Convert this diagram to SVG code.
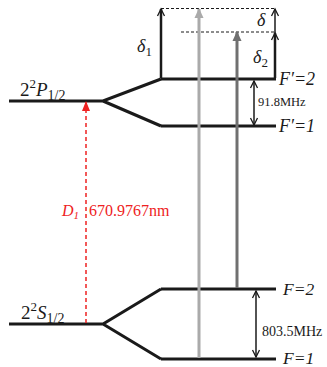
<svg xmlns="http://www.w3.org/2000/svg" width="327" height="367" viewBox="0 0 327 367">
<style>
.lvl{stroke:#1a1a1a;stroke-width:3;fill:none}
.thin{stroke:#1a1a1a;stroke-width:1.5;fill:none}
.dash{stroke:#1a1a1a;stroke-width:1;stroke-dasharray:3,2;fill:none}
.t{font-family:"Liberation Serif",serif;fill:#1a1a1a}
.it{font-style:italic}
</style>
<defs>
<marker id="ah" markerWidth="10" markerHeight="10" refX="8" refY="5" orient="auto-start-reverse" markerUnits="userSpaceOnUse" viewBox="0 0 10 10">
<path d="M1,1.5 L8,5 L1,8.5" fill="none" stroke="#1a1a1a" stroke-width="1.3"/>
</marker>
<marker id="agl" markerWidth="10" markerHeight="10" refX="9" refY="5" orient="auto" markerUnits="userSpaceOnUse" viewBox="0 0 10 10">
<path d="M0,0.5 L10,5 L0,9.5 Z" fill="#aaaaaa"/>
</marker>
<marker id="agd" markerWidth="10" markerHeight="10" refX="9" refY="5" orient="auto" markerUnits="userSpaceOnUse" viewBox="0 0 10 10">
<path d="M0,0.5 L10,5 L0,9.5 Z" fill="#707070"/>
</marker>
<marker id="ar" markerWidth="10" markerHeight="10" refX="9" refY="5" orient="auto" markerUnits="userSpaceOnUse" viewBox="0 0 10 10">
<path d="M0,1 L10,5 L0,9 Z" fill="#ee2222"/>
</marker>
</defs>
<g id="P-level">
<path class="lvl" d="M9,101 H103 L161,79 M103,101 L161,126"/>
<text class="t" x="20" y="96" font-size="19">2<tspan dy="-8" font-size="13">2</tspan><tspan class="it" dy="8">P</tspan><tspan dy="4" font-size="14">1/2</tspan></text>
</g>
<g id="Fp2">
<path class="lvl" d="M161,79 H276"/>
<text class="t it" x="279" y="85" font-size="18">F′=2</text>
</g>
<g id="Fp1">
<path class="lvl" d="M161,126 H276"/>
<text class="t it" x="279" y="132" font-size="18">F′=1</text>
</g>
<g id="S-level">
<path class="lvl" d="M9,324 H103 L161,289 M103,324 L161,359"/>
<text class="t" x="21" y="319" font-size="19">2<tspan dy="-8" font-size="13">2</tspan><tspan class="it" dy="8">S</tspan><tspan dy="4" font-size="14">1/2</tspan></text>
</g>
<g id="F2">
<path class="lvl" d="M161,289 H276"/>
<text class="t it" x="283" y="295" font-size="17.5">F=2</text>
</g>
<g id="F1">
<path class="lvl" d="M161,359 H276"/>
<text class="t it" x="283" y="364" font-size="17.5">F=1</text>
</g>
<g id="connectors">
<path class="dash" d="M161,8.5 H275 M181,32 H275"/>
<path d="M161,78 V9" stroke="#1a1a1a" stroke-width="2.5" marker-end="url(#ah)"/>
<path d="M275,78 V33" stroke="#1a1a1a" stroke-width="2.5" marker-end="url(#ah)"/>
<path d="M275,33 V9" stroke="#1a1a1a" stroke-width="1.5" marker-end="url(#ah)"/>
<path d="M199,358 V9" stroke="#aaaaaa" stroke-width="3" marker-end="url(#agl)"/>
<path d="M237,288 V32" stroke="#707070" stroke-width="3" marker-end="url(#agd)"/>
<path class="thin" d="M254,81 V125" marker-start="url(#ah)" marker-end="url(#ah)"/>
<path class="thin" d="M256,291 V357" marker-start="url(#ah)" marker-end="url(#ah)"/>
<path d="M86,323 V102" stroke="#ee2222" stroke-width="1.5" stroke-dasharray="4,3" marker-end="url(#ar)"/>
<text class="t it" x="137" y="52" font-size="18">δ<tspan font-style="normal" dy="4" font-size="13">1</tspan></text>
<text class="t it" x="257" y="26" font-size="18">δ</text>
<text class="t it" x="253" y="63" font-size="18">δ<tspan font-style="normal" dy="4" font-size="13">2</tspan></text>
<text class="t" x="258" y="106" font-size="12.5">91.8MHz</text>
<text class="t" x="262" y="336" font-size="14">803.5MHz</text>
<text x="62" y="216" font-family="Liberation Serif,serif" font-size="16" fill="#ee2222"><tspan font-style="italic">D</tspan><tspan font-style="italic" font-size="11" dy="3">1</tspan><tspan dy="-3" x="89">670.9767nm</tspan></text>
</g>
</svg>
